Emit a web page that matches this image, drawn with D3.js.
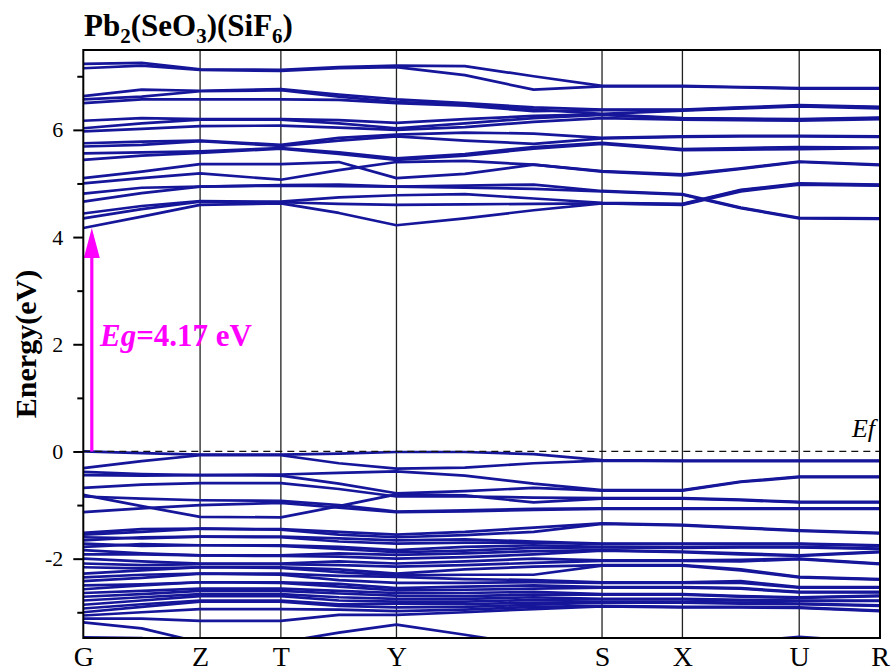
<!DOCTYPE html>
<html>
<head>
<meta charset="utf-8">
<script src="https://cdn.jsdelivr.net/npm/d3@7"></script>
<style>
  html, body { margin: 0; padding: 0; background: #fff; }
  svg { display: block; font-family: "Liberation Serif", "Times New Roman", serif; }
</style>
</head>
<body>
<svg id="chart" width="891" height="672"></svg>
<script>
// High-symmetry points along the k-path (path length in arbitrary units)
const symLabels = ["G", "Z", "T", "Y", "S", "X", "U", "R"];
const symK = [0, 0.292, 0.494, 0.783, 1.297, 1.498, 1.790, 1.992];

// k-points at which each band energy is sampled
// G, G-Z, Z, T, T-Y, Y, Y-S(1/3), Y-S(2/3), S, X, X-U, U, R
const kPath = [0, 0.146, 0.292, 0.494, 0.639, 0.783, 0.954, 1.126, 1.297, 1.498, 1.644, 1.790, 1.992];

const majorTicks = [-2, 0, 2, 4, 6];
const minorTicks = [-3, -1, 1, 3, 5, 7];
const bandGap = 4.17;
const fermiLevel = 0;

// Conduction bands (eV)
const conductionBands = [
  [7.23, 7.25, 7.13, 7.12, 7.17, 7.20, 7.19, 7.00, 6.82, 6.82, 6.80, 6.78, 6.78],
  [7.15, 7.20, 7.12, 7.10, 7.15, 7.17, 7.02, 6.75, 6.81, 6.81, 6.79, 6.77, 6.77],
  [6.63, 6.75, 6.73, 6.76, 6.66, 6.57, 6.50, 6.42, 6.38, 6.38, 6.42, 6.46, 6.43],
  [6.57, 6.62, 6.72, 6.74, 6.62, 6.52, 6.48, 6.38, 6.30, 6.36, 6.40, 6.44, 6.40],
  [6.50, 6.57, 6.57, 6.57, 6.56, 6.50, 6.45, 6.35, 6.37, 6.37, 6.41, 6.45, 6.42],
  [6.17, 6.22, 6.20, 6.20, 6.18, 6.13, 6.20, 6.26, 6.29, 6.22, 6.21, 6.20, 6.23],
  [6.03, 6.12, 6.19, 6.19, 6.12, 6.03, 6.12, 6.22, 6.28, 6.21, 6.20, 6.19, 6.22],
  [5.97, 6.02, 6.07, 6.08, 6.04, 6.00, 6.05, 6.15, 6.22, 6.19, 6.18, 6.17, 6.20],
  [5.75, 5.78, 5.80, 5.72, 5.85, 5.91, 5.95, 5.93, 5.85, 5.88, 5.89, 5.89, 5.88],
  [5.69, 5.72, 5.79, 5.70, 5.80, 5.88, 5.80, 5.74, 5.84, 5.87, 5.88, 5.88, 5.87],
  [5.56, 5.58, 5.60, 5.66, 5.58, 5.47, 5.55, 5.68, 5.76, 5.64, 5.66, 5.68, 5.67],
  [5.44, 5.52, 5.57, 5.65, 5.55, 5.44, 5.52, 5.65, 5.74, 5.62, 5.63, 5.64, 5.66],
  [5.10, 5.22, 5.36, 5.36, 5.40, 5.10, 5.18, 5.35, 5.23, 5.17, 5.28, 5.41, 5.35],
  [5.00, 5.10, 5.19, 5.07, 5.25, 5.40, 5.42, 5.35, 5.22, 5.15, 5.27, 5.40, 5.34],
  [4.81, 4.92, 4.94, 4.97, 4.98, 4.94, 4.96, 4.98, 4.86, 4.80, 4.55, 4.36, 4.35],
  [4.66, 4.82, 4.94, 4.96, 4.95, 4.94, 4.92, 4.90, 4.85, 4.79, 4.54, 4.35, 4.34],
  [4.44, 4.58, 4.67, 4.66, 4.74, 4.78, 4.80, 4.72, 4.64, 4.62, 4.88, 5.00, 4.98],
  [4.35, 4.52, 4.66, 4.65, 4.62, 4.60, 4.61, 4.62, 4.63, 4.61, 4.87, 4.99, 4.97],
  [4.17, 4.38, 4.60, 4.63, 4.45, 4.22, 4.35, 4.50, 4.63, 4.60, 4.85, 4.98, 4.96]
];

// Upper valence bands (eV)
const upperValenceBands = [
  [0.00, -0.03, -0.06, -0.06, -0.04, -0.01, -0.01, -0.05, -0.16, -0.17, -0.17, -0.17, -0.17],
  [-0.31, -0.18, -0.07, -0.07, -0.22, -0.32, -0.30, -0.22, -0.17, -0.18, -0.18, -0.18, -0.18],
  [-0.38, -0.42, -0.44, -0.43, -0.40, -0.37, -0.45, -0.60, -0.72, -0.72, -0.56, -0.47, -0.47],
  [-0.44, -0.45, -0.44, -0.45, -0.60, -0.78, -0.74, -0.68, -0.73, -0.73, -0.57, -0.48, -0.48],
  [-0.68, -0.62, -0.59, -0.59, -0.70, -0.84, -0.84, -0.86, -0.87, -0.87, -0.90, -0.94, -0.94],
  [-0.81, -1.02, -1.22, -1.23, -1.02, -0.80, -0.82, -0.95, -0.88, -0.88, -0.91, -0.95, -0.95],
  [-0.84, -0.88, -0.91, -0.92, -1.00, -1.12, -1.10, -1.07, -1.06, -1.06, -1.06, -1.06, -1.06],
  [-1.13, -1.06, -1.00, -0.96, -1.05, -1.13, -1.12, -1.09, -1.07, -1.07, -1.07, -1.07, -1.07]
];

// Deeper valence bands (eV)
const lowerValenceBands = [
  [-1.52, -1.45, -1.44, -1.45, -1.50, -1.55, -1.50, -1.42, -1.34, -1.37, -1.42, -1.47, -1.52],
  [-1.55, -1.50, -1.44, -1.46, -1.55, -1.60, -1.56, -1.50, -1.35, -1.38, -1.43, -1.48, -1.53],
  [-1.60, -1.62, -1.59, -1.59, -1.62, -1.66, -1.64, -1.68, -1.72, -1.72, -1.72, -1.72, -1.75],
  [-1.66, -1.60, -1.59, -1.60, -1.68, -1.72, -1.70, -1.70, -1.73, -1.73, -1.73, -1.73, -1.76],
  [-1.72, -1.76, -1.75, -1.75, -1.78, -1.84, -1.78, -1.75, -1.78, -1.79, -1.78, -1.78, -1.81],
  [-1.78, -1.73, -1.75, -1.76, -1.82, -1.88, -1.85, -1.80, -1.79, -1.80, -1.79, -1.79, -1.82],
  [-1.84, -1.90, -1.94, -1.94, -1.90, -1.93, -1.90, -1.86, -1.84, -1.87, -1.90, -1.94, -1.87],
  [-1.92, -1.92, -1.94, -1.95, -1.96, -2.00, -1.97, -1.92, -1.85, -1.88, -1.92, -1.95, -1.88],
  [-2.00, -2.05, -2.09, -2.09, -2.05, -2.09, -2.05, -2.00, -2.03, -2.03, -2.02, -2.00, -2.09],
  [-2.09, -2.12, -2.10, -2.10, -2.12, -2.15, -2.12, -2.08, -2.04, -2.04, -2.05, -2.01, -2.10],
  [-2.16, -2.18, -2.16, -2.16, -2.20, -2.28, -2.20, -2.15, -2.12, -2.12, -2.20, -2.34, -2.38],
  [-2.28, -2.22, -2.16, -2.17, -2.25, -2.31, -2.30, -2.30, -2.13, -2.13, -2.22, -2.35, -2.39],
  [-2.35, -2.30, -2.28, -2.28, -2.32, -2.34, -2.38, -2.40, -2.44, -2.44, -2.42, -2.53, -2.53],
  [-2.42, -2.36, -2.28, -2.30, -2.40, -2.45, -2.45, -2.44, -2.45, -2.45, -2.45, -2.54, -2.54],
  [-2.50, -2.48, -2.44, -2.44, -2.47, -2.55, -2.52, -2.50, -2.53, -2.53, -2.55, -2.62, -2.62],
  [-2.57, -2.50, -2.44, -2.45, -2.52, -2.59, -2.58, -2.56, -2.54, -2.54, -2.56, -2.63, -2.63],
  [-2.64, -2.60, -2.56, -2.56, -2.60, -2.64, -2.64, -2.62, -2.66, -2.66, -2.70, -2.72, -2.69],
  [-2.71, -2.66, -2.60, -2.60, -2.65, -2.69, -2.70, -2.67, -2.67, -2.67, -2.71, -2.73, -2.70],
  [-2.78, -2.72, -2.66, -2.66, -2.72, -2.75, -2.75, -2.72, -2.75, -2.75, -2.77, -2.78, -2.78],
  [-2.86, -2.78, -2.70, -2.70, -2.78, -2.80, -2.80, -2.77, -2.76, -2.76, -2.78, -2.79, -2.79],
  [-2.93, -2.85, -2.78, -2.78, -2.85, -2.84, -2.85, -2.82, -2.81, -2.81, -2.82, -2.84, -2.87],
  [-3.00, -2.90, -2.80, -2.80, -2.88, -2.91, -2.90, -2.86, -2.82, -2.82, -2.84, -2.85, -2.88],
  [-3.06, -3.00, -2.94, -2.94, -2.95, -2.98, -2.95, -2.90, -2.88, -2.90, -2.90, -2.91, -2.97],
  [-3.12, -3.12, -3.16, -3.16, -3.05, -3.05, -3.00, -2.94, -2.89, -2.91, -2.91, -2.92, -2.98],
  [-3.19, -3.30, -3.56, -3.56, -3.38, -3.23, -3.42, -3.62, -3.70, -3.70, -3.55, -3.46, -3.56],
  [-3.47, -3.48, -3.65, -3.70, -3.70, -3.70, -3.70, -3.70, -3.70, -3.70, -3.70, -3.70, -3.70]
];

// ---- layout ----
const svg = d3.select("#chart");
const plotLeft = 83.3, plotRight = 880, plotTop = 50, plotBottom = 638;

const x = d3.scaleLinear().domain([symK[0], symK[symK.length - 1]]).range([plotLeft, plotRight]);
const y = d3.scaleLinear().domain([-3.48, 7.49]).range([plotBottom, plotTop]);

const bandColor = "#16169a";
const serif = "'Liberation Serif', 'Times New Roman', serif";

svg.append("defs").append("clipPath").attr("id", "plot-clip")
  .append("rect").attr("x", plotLeft).attr("y", plotTop)
  .attr("width", plotRight - plotLeft).attr("height", plotBottom - plotTop);

// vertical lines at the high-symmetry points
svg.append("g").selectAll("line")
  .data(symK.slice(1, -1))
  .join("line")
  .attr("x1", d => x(d)).attr("x2", d => x(d))
  .attr("y1", plotTop).attr("y2", plotBottom)
  .attr("stroke", "#222").attr("stroke-width", 1.3);

// bands
const bandLine = d3.line()
  .x((d, i) => x(kPath[i]))
  .y(d => y(d));

const allBands = conductionBands.concat(upperValenceBands, lowerValenceBands);
svg.append("g").attr("clip-path", "url(#plot-clip)")
  .selectAll("path")
  .data(allBands)
  .join("path")
  .attr("d", bandLine)
  .attr("fill", "none")
  .attr("stroke", bandColor)
  .attr("stroke-width", 2.7)
  .attr("stroke-linejoin", "round");

// Fermi level
svg.append("line")
  .attr("x1", x(symK[0])).attr("x2", x(symK[symK.length - 1]))
  .attr("y1", y(fermiLevel)).attr("y2", y(fermiLevel))
  .attr("stroke", "#111").attr("stroke-width", 1.3)
  .attr("stroke-dasharray", "7,5");

svg.append("text")
  .attr("x", plotRight - 5).attr("y", y(fermiLevel) - 14)
  .attr("text-anchor", "end")
  .attr("font-size", 26).attr("font-style", "italic")
  .text("Ef");

// band-gap arrow
const arrowX = x(symK[0]) + 8.5;
const headLen = 30, headHalf = 8;
const tipY = y(bandGap);
svg.append("line")
  .attr("x1", arrowX).attr("x2", arrowX)
  .attr("y1", y(fermiLevel)).attr("y2", tipY + headLen - 2)
  .attr("stroke", "#ff00ff").attr("stroke-width", 3.2);
svg.append("path")
  .attr("d", `M${arrowX},${tipY} L${arrowX - headHalf},${tipY + headLen} L${arrowX + headHalf},${tipY + headLen} Z`)
  .attr("fill", "#ff00ff");

const eg = svg.append("text")
  .attr("x", 100).attr("y", 346)
  .attr("fill", "#ff00ff").attr("font-weight", "bold").attr("font-size", 31);
eg.append("tspan").attr("font-style", "italic").text("Eg");
eg.append("tspan").text(`=${bandGap.toFixed(2)} eV`);

// y axis
const yMajor = d3.axisLeft(y).tickValues(majorTicks).tickSize(10).tickPadding(10)
  .tickFormat(d => String(d));
const yMinor = d3.axisLeft(y).tickValues(minorTicks).tickSize(6).tickFormat("");

const gMinor = svg.append("g").attr("transform", `translate(${plotLeft},0)`).call(yMinor);
gMinor.select(".domain").remove();
gMinor.selectAll(".tick line").attr("stroke", "#000").attr("stroke-width", 2);

const gMajor = svg.append("g").attr("transform", `translate(${plotLeft},0)`).call(yMajor);
gMajor.select(".domain").remove();
gMajor.selectAll(".tick line").attr("stroke", "#000").attr("stroke-width", 2);
gMajor.selectAll(".tick text")
  .attr("font-family", serif)
  .attr("font-size", 22).attr("fill", "#000");

// x axis labels
const xAxis = d3.axisBottom(x).tickValues(symK).tickSize(0).tickPadding(8)
  .tickFormat((d, i) => symLabels[i]);
const gx = svg.append("g").attr("transform", `translate(0,${plotBottom})`).call(xAxis);
gx.select(".domain").remove();
gx.selectAll(".tick text")
  .attr("font-family", serif)
  .attr("font-size", 28).attr("fill", "#000");

// frame
svg.append("rect")
  .attr("x", plotLeft).attr("y", plotTop)
  .attr("width", plotRight - plotLeft).attr("height", plotBottom - plotTop)
  .attr("fill", "none").attr("stroke", "#000").attr("stroke-width", 2);

// axis title
svg.append("text")
  .attr("transform", `translate(36,${(plotTop + plotBottom) / 2}) rotate(-90)`)
  .attr("text-anchor", "middle")
  .attr("font-weight", "bold").attr("font-size", 30)
  .text("Energy(eV)");

// compound title with subscripts
const title = svg.append("text")
  .attr("x", 84).attr("y", 36)
  .attr("font-weight", "bold").attr("font-size", 31);
const parts = [["Pb", false], ["2", true], ["(SeO", false], ["3", true], [")(SiF", false], ["6", true], [")", false]];
let shifted = false;
parts.forEach(([t, sub]) => {
  const ts = title.append("tspan").text(t);
  if (sub) { ts.attr("font-size", 21).attr("dy", 7); shifted = true; }
  else if (shifted) { ts.attr("dy", -7); shifted = false; }
});
</script>
</body>
</html>
